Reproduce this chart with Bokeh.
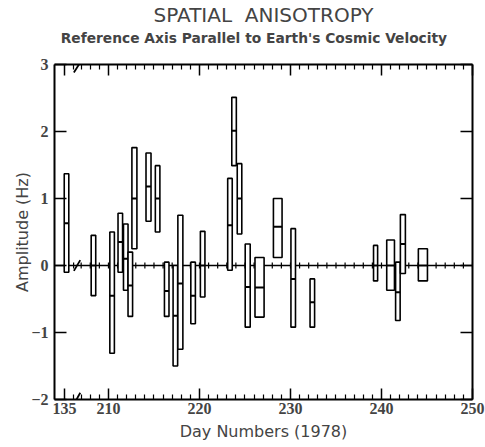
import numpy as np
from bokeh.plotting import figure
from bokeh.models import (Range1d, LinearAxis, FixedTicker, CustomJSTickFormatter,
                          Title, Span, ColumnDataSource)
from bokeh.embed import file_html
from bokeh.resources import INLINE

# ---------------- data ----------------
day = [135.22, 208.35, 210.4, 211.3, 211.9, 212.4, 212.85, 214.4, 215.4, 216.4,
       217.35, 217.9, 219.3, 220.35, 223.35, 223.8, 224.4, 225.3, 226.6, 228.6,
       230.3, 232.4, 239.35, 241.0, 241.8, 242.35, 244.55]
high = [1.37, 0.45, 0.50, 0.78, 0.62, 0.20, 1.76, 1.68, 1.49, 0.05,
        0.00, 0.75, 0.05, 0.51, 1.30, 2.51, 1.52, 0.32, 0.12, 1.00,
        0.55, -0.20, 0.30, 0.38, 0.05, 0.76, 0.25]
low = [-0.10, -0.45, -1.31, -0.10, -0.37, -0.76, 0.25, 0.66, 0.50, -0.76,
       -1.50, -1.25, -0.87, -0.47, -0.07, 1.49, 0.47, -0.92, -0.77, 0.12,
       -0.92, -0.92, -0.23, -0.37, -0.82, -0.12, -0.23]
amp = [0.63, 0.00, -0.45, 0.35, 0.10, -0.30, 1.00, 1.18, 1.00, -0.38,
       -0.75, -0.27, -0.45, 0.00, 0.60, 2.01, 1.00, -0.32, -0.33, 0.58,
       -0.20, -0.55, 0.00, 0.00, -0.40, 0.32, 0.00]
dur = [0.5, 0.5, 0.5, 0.5, 0.5, 0.5, 0.55, 0.55, 0.5, 0.5,
       0.5, 0.55, 0.5, 0.5, 0.5, 0.5, 0.5, 0.55, 1.0, 0.95,
       0.5, 0.5, 0.45, 0.85, 0.5, 0.55, 1.0]

x_major_days = [135, 210, 220, 230, 240, 250]
x_minor_days = [136] + [d for d in range(207, 250) if d % 10 != 0]
y_ticks = [-2, -1, 0, 1, 2, 3]

TITLE = "SPATIAL \u00a0ANISOTROPY"
SUBTITLE = "Reference Axis Parallel to Earth's Cosmic Velocity"

# ---------------- broken x axis mapping ----------------
X_START, X_END = 204.07, 250.0
SHIFT = 70.17          # days before the break are drawn shifted next to 210
BREAK_AT = 206.55

def xmap(d):
    return d + SHIFT if d < 200 else d

xs = np.array([xmap(d) for d in day])
w = np.array(dur)
src = ColumnDataSource(dict(
    left=xs - w / 2, right=xs + w / 2,
    top=np.array(high), bottom=np.array(low), amp=np.array(amp)))

major_pos = [xmap(d) for d in x_major_days]
minor_pos = [xmap(d) for d in x_minor_days]

FONT_TICK = "Liberation Sans Narrow"
FONT_TXT = "DejaVu Sans"

p = figure(width=485, height=447, x_range=Range1d(X_START, X_END),
           y_range=Range1d(-2, 3), output_backend="svg", toolbar_location=None,
           x_axis_location=None, y_axis_location=None,
           min_border_left=54, min_border_right=13, min_border_top=0,
           min_border_bottom=48, background_fill_color="white",
           border_fill_color="white", outline_line_color=None)
p.grid.grid_line_color = None

fmt = CustomJSTickFormatter(args=dict(brk=BREAK_AT, shift=SHIFT),
                            code="const d = tick < brk ? tick - shift : tick; return Math.round(d).toString();")
blank = CustomJSTickFormatter(code="return '';")

def xaxis(show_labels):
    ax = LinearAxis(ticker=FixedTicker(ticks=major_pos, minor_ticks=minor_pos),
                    major_tick_in=11, major_tick_out=0,
                    minor_tick_in=5, minor_tick_out=0,
                    axis_line_width=2, major_tick_line_width=1.5,
                    minor_tick_line_width=1.2)
    if show_labels:
        ax.formatter = fmt
        ax.major_label_text_font = FONT_TICK
        ax.major_label_text_font_style = "bold"
        ax.major_label_text_font_size = "16px"
        ax.major_label_standoff = 3
        ax.axis_label = "Day Numbers (1978)"
        ax.axis_label_text_font = FONT_TXT
        ax.axis_label_text_font_style = "normal"
        ax.axis_label_text_font_size = "16px"
        ax.axis_label_standoff = 5
    else:
        # top axis: no tick labels, carries the subtitle as its label
        ax.formatter = blank
        ax.major_label_standoff = 0
        ax.axis_label = SUBTITLE + "\u00a0" * 4
        ax.axis_label_text_font = FONT_TXT
        ax.axis_label_text_font_style = "bold"
        ax.axis_label_text_font_size = "13.8px"
        ax.axis_label_standoff = 19
    return ax

def yaxis(show_labels):
    ax = LinearAxis(ticker=FixedTicker(ticks=y_ticks, minor_ticks=[]),
                    major_tick_in=12, major_tick_out=0,
                    minor_tick_in=0, minor_tick_out=0,
                    axis_line_width=2, major_tick_line_width=1.5)
    if show_labels:
        ax.major_label_text_font = FONT_TICK
        ax.major_label_text_font_style = "bold"
        ax.major_label_text_font_size = "16px"
        ax.major_label_standoff = 6
        ax.axis_label = "Amplitude (Hz)"
        ax.axis_label_text_font = FONT_TXT
        ax.axis_label_text_font_style = "normal"
        ax.axis_label_text_font_size = "16px"
        ax.axis_label_standoff = -4
    else:
        ax.formatter = blank
        ax.major_label_standoff = 0
        ax.axis_label_standoff = 0
    return ax

p.add_layout(xaxis(True), "below")
p.add_layout(yaxis(True), "left")
p.add_layout(yaxis(False), "right")
p.add_layout(xaxis(False), "above")

p.add_layout(Title(text=TITLE, align="center",
                   text_font=FONT_TXT, text_font_size="20px",
                   text_font_style="normal", standoff=0), "above")

# zero line with day crosses
p.add_layout(Span(location=0, dimension="width", line_color="black",
                  line_width=1.5, level="underlay"))
p.scatter(x=minor_pos + major_pos, y=[0] * (len(minor_pos) + len(major_pos)),
          marker="dash", angle=np.pi / 2, size=6, line_color="black",
          line_width=1.2)

# axis break marks
bx = [BREAK_AT - 0.35, BREAK_AT - 0.35, BREAK_AT - 0.35]
ex = [BREAK_AT + 0.35, BREAK_AT + 0.35, BREAK_AT + 0.35]
p.segment(x0=bx, x1=ex, y0=[3 - 0.12, -2 - 0.07, -0.08], y1=[3 + 0.03, -2 + 0.10, 0.08],
          line_color="black", line_width=1.8)

# amplitude boxes
p.quad(left="left", right="right", top="top", bottom="bottom", source=src,
       fill_color="white", line_color="black", line_width=1.6)
p.segment(x0="left", x1="right", y0="amp", y1="amp", source=src,
          line_color="black", line_width=2)

open("out.html", "w").write(file_html(p, INLINE))
